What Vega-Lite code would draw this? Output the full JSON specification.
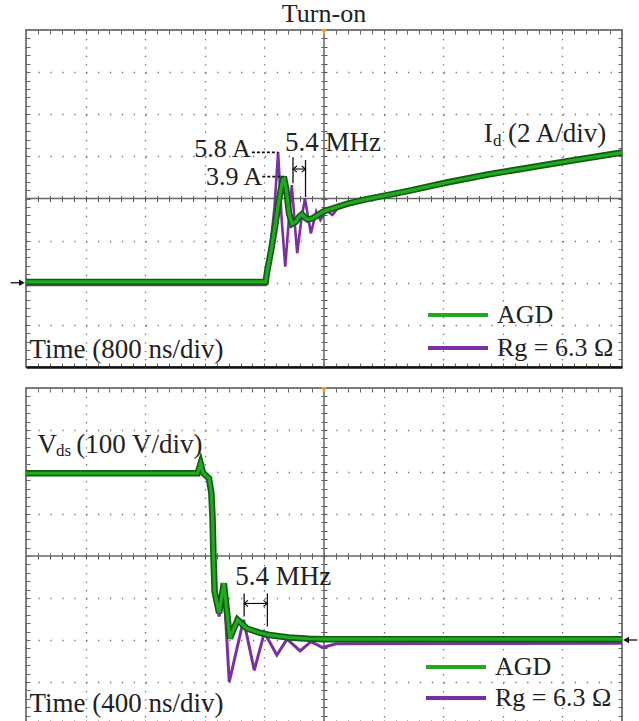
{
  "$schema": "https://vega.github.io/schema/vega-lite/v6.json",
  "background": "white",
  "padding": {"left": 9, "top": 0, "right": 0, "bottom": 0},
  "spacing": 17,
  "config": {"view": {"stroke": "#505050", "strokeWidth": 1.5}, "font": "Liberation Serif"},
  "resolve": {"scale": {"x": "independent", "y": "independent", "color": "independent"}, "legend": {"color": "independent"}},
  "datasets": {
    "id": [
      {"series": "AGD", "t": -4000, "v": 0.04}, {"series": "AGD", "t": -784, "v": 0.04}, {"series": "AGD", "t": -760, "v": 0.6},
      {"series": "AGD", "t": -712, "v": 1.5}, {"series": "AGD", "t": -660, "v": 2.6}, {"series": "AGD", "t": -610, "v": 3.8},
      {"series": "AGD", "t": -570, "v": 4.6}, {"series": "AGD", "t": -540, "v": 5.04}, {"series": "AGD", "t": -505, "v": 4.4},
      {"series": "AGD", "t": -470, "v": 3.3}, {"series": "AGD", "t": -430, "v": 2.8}, {"series": "AGD", "t": -380, "v": 2.9},
      {"series": "AGD", "t": -330, "v": 3.15}, {"series": "AGD", "t": -296, "v": 3.25}, {"series": "AGD", "t": -260, "v": 3.1},
      {"series": "AGD", "t": -220, "v": 3.0}, {"series": "AGD", "t": -160, "v": 3.05}, {"series": "AGD", "t": -80, "v": 3.22},
      {"series": "AGD", "t": 0, "v": 3.4}, {"series": "AGD", "t": 320, "v": 3.76}, {"series": "AGD", "t": 560, "v": 3.96},
      {"series": "AGD", "t": 1104, "v": 4.34}, {"series": "AGD", "t": 1648, "v": 4.76}, {"series": "AGD", "t": 2200, "v": 5.14},
      {"series": "AGD", "t": 2744, "v": 5.46}, {"series": "AGD", "t": 3288, "v": 5.78}, {"series": "AGD", "t": 4000, "v": 6.18},
      {"series": "Rg = 6.3 Ω", "t": -4000, "v": -0.1}, {"series": "Rg = 6.3 Ω", "t": -784, "v": -0.1}, {"series": "Rg = 6.3 Ω", "t": -760, "v": 0.2},
      {"series": "Rg = 6.3 Ω", "t": -720, "v": 1.72}, {"series": "Rg = 6.3 Ω", "t": -664, "v": 3.6}, {"series": "Rg = 6.3 Ω", "t": -616, "v": 6.2},
      {"series": "Rg = 6.3 Ω", "t": -568, "v": 3.0}, {"series": "Rg = 6.3 Ω", "t": -520, "v": 0.76}, {"series": "Rg = 6.3 Ω", "t": -472, "v": 3.0},
      {"series": "Rg = 6.3 Ω", "t": -432, "v": 4.64}, {"series": "Rg = 6.3 Ω", "t": -392, "v": 2.8}, {"series": "Rg = 6.3 Ω", "t": -360, "v": 1.4},
      {"series": "Rg = 6.3 Ω", "t": -304, "v": 3.0}, {"series": "Rg = 6.3 Ω", "t": -256, "v": 4.0}, {"series": "Rg = 6.3 Ω", "t": -176, "v": 2.34},
      {"series": "Rg = 6.3 Ω", "t": -104, "v": 3.38}, {"series": "Rg = 6.3 Ω", "t": -48, "v": 2.98}, {"series": "Rg = 6.3 Ω", "t": 32, "v": 3.44},
      {"series": "Rg = 6.3 Ω", "t": 112, "v": 3.22}, {"series": "Rg = 6.3 Ω", "t": 200, "v": 3.6}, {"series": "Rg = 6.3 Ω", "t": 320, "v": 3.74},
      {"series": "Rg = 6.3 Ω", "t": 560, "v": 3.94}, {"series": "Rg = 6.3 Ω", "t": 1104, "v": 4.32}, {"series": "Rg = 6.3 Ω", "t": 2200, "v": 5.12},
      {"series": "Rg = 6.3 Ω", "t": 4000, "v": 6.16}
    ],
    "vds": [
      {"series": "AGD", "t": -2000, "v": 397}, {"series": "AGD", "t": -848, "v": 397}, {"series": "AGD", "t": -828, "v": 420},
      {"series": "AGD", "t": -812, "v": 398}, {"series": "AGD", "t": -772, "v": 385}, {"series": "AGD", "t": -756, "v": 350},
      {"series": "AGD", "t": -748, "v": 290}, {"series": "AGD", "t": -742, "v": 200}, {"series": "AGD", "t": -734, "v": 115},
      {"series": "AGD", "t": -704, "v": 64}, {"series": "AGD", "t": -672, "v": 135}, {"series": "AGD", "t": -632, "v": 4},
      {"series": "AGD", "t": -580, "v": 48}, {"series": "AGD", "t": -520, "v": 28}, {"series": "AGD", "t": -440, "v": 18},
      {"series": "AGD", "t": -368, "v": 12}, {"series": "AGD", "t": -236, "v": 6}, {"series": "AGD", "t": -100, "v": 3},
      {"series": "AGD", "t": 0, "v": 2}, {"series": "AGD", "t": 2000, "v": 2},
      {"series": "Rg = 6.3 Ω", "t": -2000, "v": 400}, {"series": "Rg = 6.3 Ω", "t": -848, "v": 400}, {"series": "Rg = 6.3 Ω", "t": -828, "v": 426},
      {"series": "Rg = 6.3 Ω", "t": -812, "v": 401}, {"series": "Rg = 6.3 Ω", "t": -772, "v": 386}, {"series": "Rg = 6.3 Ω", "t": -756, "v": 350},
      {"series": "Rg = 6.3 Ω", "t": -748, "v": 290}, {"series": "Rg = 6.3 Ω", "t": -740, "v": 200}, {"series": "Rg = 6.3 Ω", "t": -728, "v": 110},
      {"series": "Rg = 6.3 Ω", "t": -704, "v": 56}, {"series": "Rg = 6.3 Ω", "t": -672, "v": 128}, {"series": "Rg = 6.3 Ω", "t": -636, "v": -100},
      {"series": "Rg = 6.3 Ω", "t": -540, "v": 48}, {"series": "Rg = 6.3 Ω", "t": -468, "v": -72}, {"series": "Rg = 6.3 Ω", "t": -400, "v": 18},
      {"series": "Rg = 6.3 Ω", "t": -316, "v": -36}, {"series": "Rg = 6.3 Ω", "t": -248, "v": 2}, {"series": "Rg = 6.3 Ω", "t": -160, "v": -26},
      {"series": "Rg = 6.3 Ω", "t": -88, "v": -4}, {"series": "Rg = 6.3 Ω", "t": -8, "v": -18}, {"series": "Rg = 6.3 Ω", "t": 80, "v": -9},
      {"series": "Rg = 6.3 Ω", "t": 2000, "v": -8}
    ]
  },
  "vconcat": [
    {
      "width": 596, "height": 337,
      "title": {"text": "Turn-on", "font": "Liberation Serif", "fontSize": 26, "fontWeight": "normal", "color": "#222", "offset": 2},
      "resolve": {"axis": {"x": "independent", "y": "independent"}},
      "layer": [
        {"data": {"values": [{}]}, "mark": {"type": "point", "opacity": 0},
          "encoding": {
            "x": {"datum": 0, "type": "quantitative", "scale": {"domain": [-4000, 4000], "nice": false, "zero": false},
              "axis": {"orient": "bottom", "values": [-3200, -2400, -1600, -800, 800, 1600, 2400, 3200], "grid": true, "gridColor": "#6f6f6f", "gridWidth": 1.3, "gridDash": [1.3, 7.125], "ticks": false, "labels": false, "domain": false, "title": null}},
            "y": {"datum": 4, "type": "quantitative", "scale": {"domain": [-4, 12], "nice": false, "zero": false},
              "axis": {"orient": "left", "values": [-2, 0, 2, 6, 8, 10], "grid": true, "gridColor": "#6f6f6f", "gridWidth": 1.3, "gridDash": [1.3, 10.62], "ticks": false, "labels": false, "domain": false, "title": null}}
          }},
        {"data": {"values": [{}]}, "mark": {"type": "point", "opacity": 0},
          "encoding": {
            "x": {"datum": 0, "type": "quantitative",
              "axis": {"orient": "bottom", "values": [-3840,-3680,-3520,-3360,-3200,-3040,-2880,-2720,-2560,-2400,-2240,-2080,-1920,-1760,-1600,-1440,-1280,-1120,-960,-800,-640,-480,-320,-160,0,160,320,480,640,800,960,1120,1280,1440,1600,1760,1920,2080,2240,2400,2560,2720,2880,3040,3200,3360,3520,3680,3840], "tickSize": -4, "tickColor": "#666", "tickWidth": 1, "labels": false, "grid": false, "domain": true, "domainColor": "#111", "domainWidth": 2.5, "title": null}},
            "y": {"datum": 4, "type": "quantitative",
              "axis": {"orient": "left", "values": [-3.6,-3.2,-2.8,-2.4,-2,-1.6,-1.2,-0.8,-0.4,0,0.4,0.8,1.2,1.6,2,2.4,2.8,3.2,3.6,4,4.4,4.8,5.2,5.6,6,6.4,6.8,7.2,7.6,8,8.4,8.8,9.2,9.6,10,10.4,10.8,11.2,11.6], "tickSize": -4, "tickColor": "#666", "tickWidth": 1, "labels": false, "grid": false, "domain": false, "title": null}}
          }},
        {"data": {"values": [{}]}, "mark": {"type": "point", "opacity": 0},
          "encoding": {
            "x": {"datum": 0, "type": "quantitative",
              "axis": {"orient": "top", "values": [-3840,-3680,-3520,-3360,-3200,-3040,-2880,-2720,-2560,-2400,-2240,-2080,-1920,-1760,-1600,-1440,-1280,-1120,-960,-800,-640,-480,-320,-160,0,160,320,480,640,800,960,1120,1280,1440,1600,1760,1920,2080,2240,2400,2560,2720,2880,3040,3200,3360,3520,3680,3840], "tickSize": -4, "tickColor": "#666", "tickWidth": 1, "labels": false, "grid": false, "domain": false, "title": null}},
            "y": {"datum": 4, "type": "quantitative",
              "axis": {"orient": "right", "values": [-3.6,-3.2,-2.8,-2.4,-2,-1.6,-1.2,-0.8,-0.4,0,0.4,0.8,1.2,1.6,2,2.4,2.8,3.2,3.6,4,4.4,4.8,5.2,5.6,6,6.4,6.8,7.2,7.6,8,8.4,8.8,9.2,9.6,10,10.4,10.8,11.2,11.6], "tickSize": -4, "tickColor": "#666", "tickWidth": 1, "labels": false, "grid": false, "domain": false, "title": null}}
          }},
        {"data": {"values": [{}]}, "mark": {"type": "point", "opacity": 0},
          "encoding": {
            "x": {"datum": 0, "type": "quantitative",
              "axis": {"orient": "bottom", "offset": -171.5, "values": [-3840,-3680,-3520,-3360,-3200,-3040,-2880,-2720,-2560,-2400,-2240,-2080,-1920,-1760,-1600,-1440,-1280,-1120,-960,-800,-640,-480,-320,-160,0,160,320,480,640,800,960,1120,1280,1440,1600,1760,1920,2080,2240,2400,2560,2720,2880,3040,3200,3360,3520,3680,3840], "tickSize": 6, "tickColor": "#555", "tickWidth": 1, "labels": false, "grid": false, "domain": false, "title": null}},
            "y": {"datum": 4, "type": "quantitative",
              "axis": {"orient": "left", "offset": -301, "values": [-3.6,-3.2,-2.8,-2.4,-2,-1.6,-1.2,-0.8,-0.4,0,0.4,0.8,1.2,1.6,2,2.4,2.8,3.2,3.6,4,4.4,4.8,5.2,5.6,6,6.4,6.8,7.2,7.6,8,8.4,8.8,9.2,9.6,10,10.4,10.8,11.2,11.6], "tickSize": 6, "tickColor": "#555", "tickWidth": 1, "labels": false, "grid": false, "domain": false, "title": null}}
          }},
        {"data": {"values": [{}]}, "mark": {"type": "rule", "color": "#666", "strokeWidth": 1.5}, "encoding": {"y": {"datum": 4, "axis": null}}},
        {"data": {"values": [{}]}, "mark": {"type": "rule", "color": "#666", "strokeWidth": 1.5}, "encoding": {"x": {"datum": 0, "axis": null}}},
        {"data": {"name": "id"}, "transform": [{"filter": "datum.series === 'Rg = 6.3 Ω'"}],
          "mark": {"type": "line", "strokeWidth": 2.6},
          "encoding": {
            "x": {"field": "t", "type": "quantitative", "axis": null},
            "y": {"field": "v", "type": "quantitative", "axis": null},
            "color": {"field": "series", "type": "nominal", "scale": {"domain": ["AGD", "Rg = 6.3 Ω"], "range": ["#22a822", "#7b2fa5"]},
              "legend": {"orient": "none", "legendX": 419, "legendY": 272, "title": null, "symbolType": "M-3,0H3", "symbolSize": 400, "symbolStrokeWidth": 4, "labelFont": "Liberation Serif", "labelFontSize": 26, "labelColor": "#222", "labelOffset": 26, "rowPadding": 7, "padding": 0, "labelLimit": 300}}
          }},
        {"data": {"name": "id"}, "transform": [{"filter": "datum.series === 'AGD'"}],
          "mark": {"type": "line", "strokeWidth": 6.5, "color": "#0f5e0f"},
          "encoding": {"x": {"field": "t", "type": "quantitative", "axis": null}, "y": {"field": "v", "type": "quantitative", "axis": null}}},
        {"data": {"name": "id"}, "transform": [{"filter": "datum.series === 'AGD'"}],
          "mark": {"type": "line", "strokeWidth": 3.2},
          "encoding": {
            "x": {"field": "t", "type": "quantitative", "axis": null},
            "y": {"field": "v", "type": "quantitative", "axis": null},
            "color": {"field": "series", "type": "nominal",
              "legend": {"orient": "none", "legendX": 419, "legendY": 272, "title": null, "symbolType": "M-3,0H3", "symbolSize": 400, "symbolStrokeWidth": 4, "labelFont": "Liberation Serif", "labelFontSize": 26, "labelColor": "#222", "labelOffset": 26, "rowPadding": 7, "padding": 0, "labelLimit": 300}}
          }},
        {"data": {"values": [{"t": -968, "t2": -616, "v": 6.19}, {"t": -828, "t2": -540, "v": 5.04}]},
          "mark": {"type": "rule", "color": "#111", "strokeWidth": 1.6, "strokeDash": [3, 2]},
          "encoding": {"x": {"field": "t", "type": "quantitative", "axis": null}, "x2": {"field": "t2"}, "y": {"field": "v", "type": "quantitative", "axis": null}}},
        {"data": {"values": [{"t": -416, "v": 5.96, "v2": 4.72}, {"t": -248, "v": 5.83, "v2": 4.07}]},
          "mark": {"type": "rule", "color": "#111", "strokeWidth": 1.3},
          "encoding": {"x": {"field": "t", "type": "quantitative", "axis": null}, "y": {"field": "v", "type": "quantitative", "axis": null}, "y2": {"field": "v2"}}},
        {"data": {"values": [{"t": -416, "t2": -248, "v": 5.4}]},
          "layer": [
            {"mark": {"type": "rule", "color": "#111", "strokeWidth": 1.2},
              "encoding": {"x": {"field": "t", "type": "quantitative", "axis": null}, "x2": {"field": "t2"}, "y": {"field": "v", "type": "quantitative", "axis": null}}},
            {"mark": {"type": "point", "shape": "M1,-0.8L0,0L1,0.8", "filled": false, "color": "#111", "strokeWidth": 1.2, "size": 60, "opacity": 1},
              "encoding": {"x": {"field": "t", "type": "quantitative", "axis": null}, "y": {"field": "v", "type": "quantitative", "axis": null}}},
            {"mark": {"type": "point", "shape": "M-1,-0.8L0,0L-1,0.8", "filled": false, "color": "#111", "strokeWidth": 1.2, "size": 60, "opacity": 1},
              "encoding": {"x": {"field": "t2", "type": "quantitative", "axis": null}, "y": {"field": "v", "type": "quantitative", "axis": null}}}
          ]},
        {"data": {"values": [{"label": "5.4 MHz", "t": -524, "v": 6.27}, {"label": "I", "t": 2144, "v": 6.7}, {"label": "(2 A/div)", "t": 2470, "v": 6.7}, {"label": "Time (800 ns/div)", "t": -3953, "v": -3.58}]},
          "mark": {"type": "text", "font": "Liberation Serif", "fontSize": 27, "color": "#222", "align": "left", "baseline": "alphabetic"},
          "encoding": {"x": {"field": "t", "type": "quantitative", "axis": null}, "y": {"field": "v", "type": "quantitative", "axis": null}, "text": {"field": "label"}}},
        {"data": {"values": [{"label": "5.8 A", "t": -984, "v": 5.95}, {"label": "3.9 A", "t": -828, "v": 4.66}]},
          "mark": {"type": "text", "font": "Liberation Serif", "fontSize": 26, "color": "#222", "align": "right", "baseline": "alphabetic"},
          "encoding": {"x": {"field": "t", "type": "quantitative", "axis": null}, "y": {"field": "v", "type": "quantitative", "axis": null}, "text": {"field": "label"}}},
        {"data": {"values": [{"label": "d", "t": 2269, "v": 6.49}]},
          "mark": {"type": "text", "font": "Liberation Serif", "fontSize": 17, "color": "#222", "align": "left", "baseline": "alphabetic"},
          "encoding": {"x": {"field": "t", "type": "quantitative", "axis": null}, "y": {"field": "v", "type": "quantitative", "axis": null}, "text": {"field": "label"}}},
        {"data": {"values": [{}]}, "mark": {"type": "rule", "color": "#111", "strokeWidth": 1.3},
          "encoding": {"x": {"datum": -4205, "axis": null}, "x2": {"datum": -4040}, "y": {"datum": 0, "axis": null}}},
        {"data": {"values": [{}]}, "mark": {"type": "point", "shape": "triangle-right", "filled": true, "color": "#111", "size": 45, "opacity": 1},
          "encoding": {"x": {"datum": -4055, "axis": null}, "y": {"datum": 0, "axis": null}}},
        {"data": {"values": [{}]}, "mark": {"type": "rule", "color": "#111", "strokeWidth": 1.3, "opacity": 0},
          "encoding": {"x": {"datum": 4040, "axis": null}, "x2": {"datum": 4205}, "y": {"datum": 0, "axis": null}}},
        {"data": {"values": [{}]}, "mark": {"type": "point", "shape": "triangle-down", "filled": true, "color": "#f5a030", "size": 40, "opacity": 1, "yOffset": 2},
          "encoding": {"x": {"datum": 0, "axis": null}, "y": {"datum": 12, "axis": null}}}
      ]
    },
    {
      "width": 596, "height": 336,
      "resolve": {"axis": {"x": "independent", "y": "independent"}},
      "layer": [
        {"data": {"values": [{}]}, "mark": {"type": "point", "opacity": 0},
          "encoding": {
            "x": {"datum": 0, "type": "quantitative", "scale": {"domain": [-2000, 2000], "nice": false, "zero": false},
              "axis": {"orient": "bottom", "values": [-1600, -1200, -800, -400, 400, 800, 1200, 1600], "grid": true, "gridColor": "#6f6f6f", "gridWidth": 1.3, "gridDash": [1.3, 7.1], "ticks": false, "labels": false, "domain": false, "title": null}},
            "y": {"datum": 200, "type": "quantitative", "scale": {"domain": [-200, 600], "nice": false, "zero": false},
              "axis": {"orient": "left", "values": [-100, 0, 100, 300, 400, 500], "grid": true, "gridColor": "#6f6f6f", "gridWidth": 1.3, "gridDash": [1.3, 10.62], "ticks": false, "labels": false, "domain": false, "title": null}}
          }},
        {"data": {"values": [{}]}, "mark": {"type": "point", "opacity": 0},
          "encoding": {
            "x": {"datum": 0, "type": "quantitative",
              "axis": {"orient": "bottom", "values": [-1920,-1840,-1760,-1680,-1600,-1520,-1440,-1360,-1280,-1200,-1120,-1040,-960,-880,-800,-720,-640,-560,-480,-400,-320,-240,-160,-80,0,80,160,240,320,400,480,560,640,720,800,880,960,1040,1120,1200,1280,1360,1440,1520,1600,1680,1760,1840,1920], "tickSize": -4, "tickColor": "#666", "tickWidth": 1, "labels": false, "grid": false, "domain": true, "domainColor": "#111", "domainWidth": 2.5, "title": null}},
            "y": {"datum": 200, "type": "quantitative",
              "axis": {"orient": "left", "values": [-180,-160,-140,-120,-100,-80,-60,-40,-20,0,20,40,60,80,100,120,140,160,180,200,220,240,260,280,300,320,340,360,380,400,420,440,460,480,500,520,540,560,580], "tickSize": -4, "tickColor": "#666", "tickWidth": 1, "labels": false, "grid": false, "domain": false, "title": null}}
          }},
        {"data": {"values": [{}]}, "mark": {"type": "point", "opacity": 0},
          "encoding": {
            "x": {"datum": 0, "type": "quantitative",
              "axis": {"orient": "top", "values": [-1920,-1840,-1760,-1680,-1600,-1520,-1440,-1360,-1280,-1200,-1120,-1040,-960,-880,-800,-720,-640,-560,-480,-400,-320,-240,-160,-80,0,80,160,240,320,400,480,560,640,720,800,880,960,1040,1120,1200,1280,1360,1440,1520,1600,1680,1760,1840,1920], "tickSize": -4, "tickColor": "#666", "tickWidth": 1, "labels": false, "grid": false, "domain": false, "title": null}},
            "y": {"datum": 200, "type": "quantitative",
              "axis": {"orient": "right", "values": [-180,-160,-140,-120,-100,-80,-60,-40,-20,0,20,40,60,80,100,120,140,160,180,200,220,240,260,280,300,320,340,360,380,400,420,440,460,480,500,520,540,560,580], "tickSize": -4, "tickColor": "#666", "tickWidth": 1, "labels": false, "grid": false, "domain": false, "title": null}}
          }},
        {"data": {"values": [{}]}, "mark": {"type": "point", "opacity": 0},
          "encoding": {
            "x": {"datum": 0, "type": "quantitative",
              "axis": {"orient": "bottom", "offset": -171, "values": [-1920,-1840,-1760,-1680,-1600,-1520,-1440,-1360,-1280,-1200,-1120,-1040,-960,-880,-800,-720,-640,-560,-480,-400,-320,-240,-160,-80,0,80,160,240,320,400,480,560,640,720,800,880,960,1040,1120,1200,1280,1360,1440,1520,1600,1680,1760,1840,1920], "tickSize": 6, "tickColor": "#555", "tickWidth": 1, "labels": false, "grid": false, "domain": false, "title": null}},
            "y": {"datum": 200, "type": "quantitative",
              "axis": {"orient": "left", "offset": -301, "values": [-180,-160,-140,-120,-100,-80,-60,-40,-20,0,20,40,60,80,100,120,140,160,180,200,220,240,260,280,300,320,340,360,380,400,420,440,460,480,500,520,540,560,580], "tickSize": 6, "tickColor": "#555", "tickWidth": 1, "labels": false, "grid": false, "domain": false, "title": null}}
          }},
        {"data": {"values": [{}]}, "mark": {"type": "rule", "color": "#666", "strokeWidth": 1.5}, "encoding": {"y": {"datum": 200, "axis": null}}},
        {"data": {"values": [{}]}, "mark": {"type": "rule", "color": "#666", "strokeWidth": 1.5}, "encoding": {"x": {"datum": 0, "axis": null}}},
        {"data": {"name": "vds"}, "transform": [{"filter": "datum.series === 'Rg = 6.3 Ω'"}],
          "mark": {"type": "line", "strokeWidth": 3},
          "encoding": {
            "x": {"field": "t", "type": "quantitative", "axis": null},
            "y": {"field": "v", "type": "quantitative", "axis": null},
            "color": {"field": "series", "type": "nominal", "scale": {"domain": ["AGD", "Rg = 6.3 Ω"], "range": ["#22a822", "#7b2fa5"]},
              "legend": {"orient": "none", "legendX": 417, "legendY": 266, "title": null, "symbolType": "M-3,0H3", "symbolSize": 400, "symbolStrokeWidth": 4, "labelFont": "Liberation Serif", "labelFontSize": 26, "labelColor": "#222", "labelOffset": 26, "rowPadding": 5, "padding": 0, "labelLimit": 300}}
          }},
        {"data": {"name": "vds"}, "transform": [{"filter": "datum.series === 'AGD'"}],
          "mark": {"type": "line", "strokeWidth": 6.5, "color": "#0f5e0f"},
          "encoding": {"x": {"field": "t", "type": "quantitative", "axis": null}, "y": {"field": "v", "type": "quantitative", "axis": null}}},
        {"data": {"name": "vds"}, "transform": [{"filter": "datum.series === 'AGD'"}],
          "mark": {"type": "line", "strokeWidth": 3.2},
          "encoding": {
            "x": {"field": "t", "type": "quantitative", "axis": null},
            "y": {"field": "v", "type": "quantitative", "axis": null},
            "color": {"field": "series", "type": "nominal",
              "legend": {"orient": "none", "legendX": 417, "legendY": 266, "title": null, "symbolType": "M-3,0H3", "symbolSize": 400, "symbolStrokeWidth": 4, "labelFont": "Liberation Serif", "labelFontSize": 26, "labelColor": "#222", "labelOffset": 26, "rowPadding": 5, "padding": 0, "labelLimit": 300}}
          }},
        {"data": {"values": [{"t": -536, "v": 111, "v2": 56}, {"t": -380, "v": 111, "v2": 32}]},
          "mark": {"type": "rule", "color": "#111", "strokeWidth": 1.3},
          "encoding": {"x": {"field": "t", "type": "quantitative", "axis": null}, "y": {"field": "v", "type": "quantitative", "axis": null}, "y2": {"field": "v2"}}},
        {"data": {"values": [{"t": -536, "t2": -380, "v": 87}]},
          "layer": [
            {"mark": {"type": "rule", "color": "#111", "strokeWidth": 1.2},
              "encoding": {"x": {"field": "t", "type": "quantitative", "axis": null}, "x2": {"field": "t2"}, "y": {"field": "v", "type": "quantitative", "axis": null}}},
            {"mark": {"type": "point", "shape": "M1,-0.8L0,0L1,0.8", "filled": false, "color": "#111", "strokeWidth": 1.2, "size": 60, "opacity": 1},
              "encoding": {"x": {"field": "t", "type": "quantitative", "axis": null}, "y": {"field": "v", "type": "quantitative", "axis": null}}},
            {"mark": {"type": "point", "shape": "M-1,-0.8L0,0L-1,0.8", "filled": false, "color": "#111", "strokeWidth": 1.2, "size": 60, "opacity": 1},
              "encoding": {"x": {"field": "t2", "type": "quantitative", "axis": null}, "y": {"field": "v", "type": "quantitative", "axis": null}}}
          ]},
        {"data": {"values": [{"label": "5.4 MHz", "t": -596, "v": 131}, {"label": "V", "t": -1922, "v": 444.5}, {"label": "(100 V/div)", "t": -1662, "v": 444.5}, {"label": "Time (400 ns/div)", "t": -1976, "v": -171}]},
          "mark": {"type": "text", "font": "Liberation Serif", "fontSize": 27, "color": "#222", "align": "left", "baseline": "alphabetic"},
          "encoding": {"x": {"field": "t", "type": "quantitative", "axis": null}, "y": {"field": "v", "type": "quantitative", "axis": null}, "text": {"field": "label"}}},
        {"data": {"values": [{"label": "ds", "t": -1799, "v": 437}]},
          "mark": {"type": "text", "font": "Liberation Serif", "fontSize": 17, "color": "#222", "align": "left", "baseline": "alphabetic"},
          "encoding": {"x": {"field": "t", "type": "quantitative", "axis": null}, "y": {"field": "v", "type": "quantitative", "axis": null}, "text": {"field": "label"}}},
        {"data": {"values": [{}]}, "mark": {"type": "rule", "color": "#111", "strokeWidth": 1.3, "opacity": 0},
          "encoding": {"x": {"datum": -2102, "axis": null}, "x2": {"datum": -2020}, "y": {"datum": 0, "axis": null}}},
        {"data": {"values": [{}]}, "mark": {"type": "rule", "color": "#111", "strokeWidth": 1.3},
          "encoding": {"x": {"datum": 2020, "axis": null}, "x2": {"datum": 2102}, "y": {"datum": 0, "axis": null}}},
        {"data": {"values": [{}]}, "mark": {"type": "point", "shape": "triangle-left", "filled": true, "color": "#111", "size": 45, "opacity": 1},
          "encoding": {"x": {"datum": 2028, "axis": null}, "y": {"datum": 0, "axis": null}}},
        {"data": {"values": [{}]}, "mark": {"type": "point", "shape": "triangle-down", "filled": true, "color": "#f5a030", "size": 40, "opacity": 1, "yOffset": 2},
          "encoding": {"x": {"datum": 0, "axis": null}, "y": {"datum": 600, "axis": null}}}
      ]
    }
  ]
}
